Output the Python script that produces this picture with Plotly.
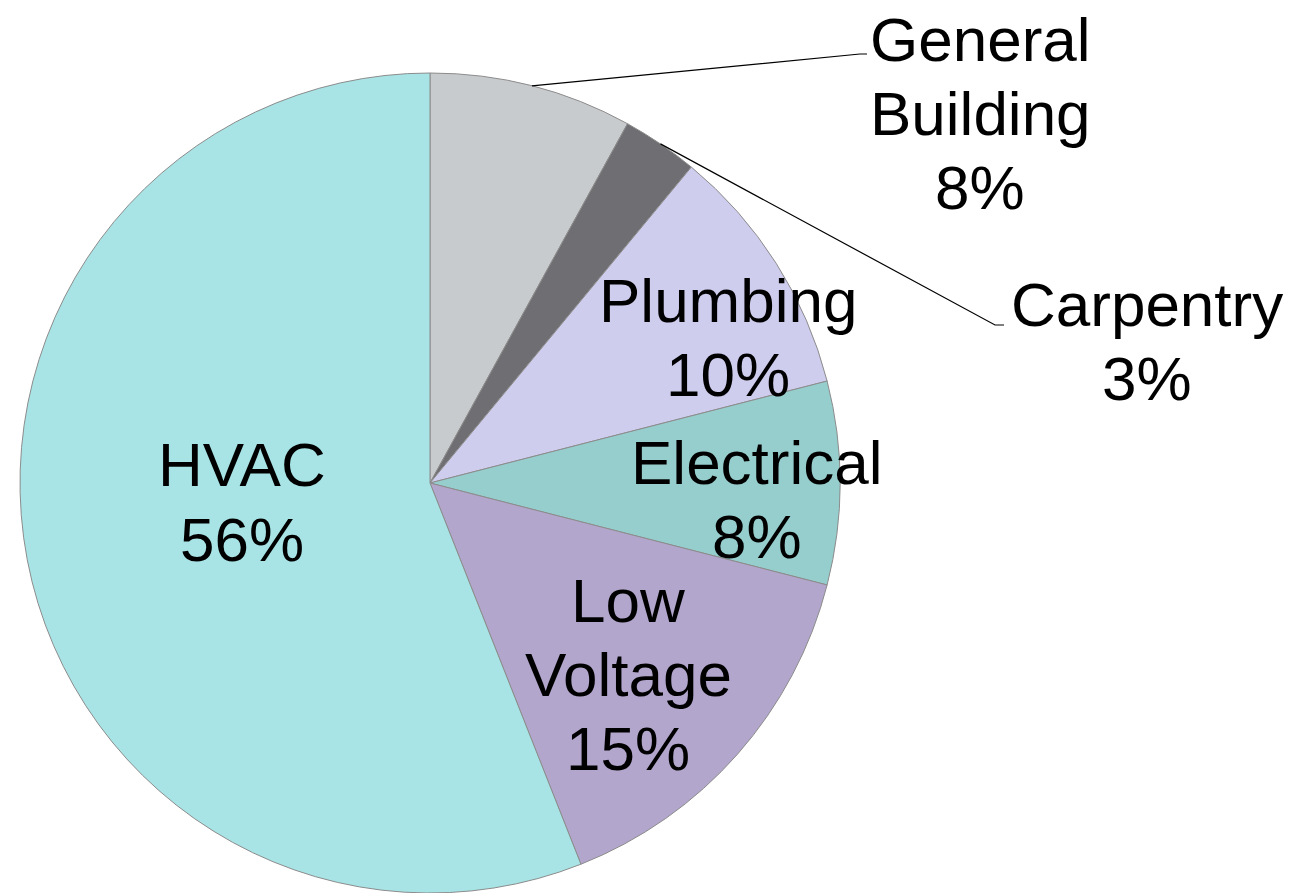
import math
import plotly.graph_objects as go

# ---- data ----
labels = ["General Building", "Carpentry", "Plumbing", "Electrical", "Low Voltage", "HVAC"]
values = [8, 3, 10, 8, 15, 56]
label_lines = [["General", "Building"], ["Carpentry"], ["Plumbing"], ["Electrical"], ["Low", "Voltage"], ["HVAC"]]
colors = ["#c8cbce", "#6f6f73", "#cfcdee", "#96cdcd", "#b3a6cc", "#a8e4e6"]

# ---- layout geometry (pixels) ----
W, H = 1306, 893
CX, CY, R = 430, 483, 410
FONT = "Liberation Sans, Arial, sans-serif"
FS = 62
LINE_H = 74

# label block centres (pixels)
label_pos = {
    "General Building": (980, 113),
    "Carpentry": (1147, 341),
    "Plumbing": (728, 337),
    "Electrical": (757, 499),
    "Low Voltage": (628, 674),
    "HVAC": (242, 502),
}
# leader-line elbows for outside labels (pixels): elbow, end
leaders = {
    "General Building": ((860, 54), (867, 54)),
    "Carpentry": ((995, 325), (1004, 325)),
}

def px(x):
    return x / W

def py(y):
    return 1 - y / H

fig = go.Figure(go.Pie(
    labels=labels,
    values=values,
    sort=False,
    direction="clockwise",
    rotation=0,
    textinfo="none",
    hoverinfo="label+percent",
    marker=dict(colors=colors, line=dict(color="#8c8c8c", width=1)),
    domain=dict(x=[(CX - R) / W, (CX + R) / W], y=[0, 2 * R / H]),
    showlegend=False,
))

total = sum(values)
annotations = []
shapes = []
cum = 0
for lab, val, lines in zip(labels, values, label_lines):
    pct = round(100 * val / total)
    all_lines = lines + [f"{pct}%"]
    cx, cy = label_pos[lab]
    n = len(all_lines)
    for i, t in enumerate(all_lines):
        yy = cy + (i - (n - 1) / 2) * LINE_H
        annotations.append(dict(
            x=px(cx), y=py(yy), xref="paper", yref="paper",
            text=t, showarrow=False, xanchor="center", yanchor="middle",
            borderpad=0,
            font=dict(family=FONT, size=FS, color="black"),
        ))
    if lab in leaders:
        mid = (cum + val / 2) / total * 2 * math.pi
        ax = CX + R * math.sin(mid)
        ay = CY - R * math.cos(mid)
        (ex, ey), (fx, fy) = leaders[lab]
        path = f"M {px(ax)} {py(ay)} L {px(ex)} {py(ey)} L {px(fx)} {py(fy)}"
        shapes.append(dict(type="path", xref="paper", yref="paper", path=path,
                           line=dict(color="black", width=1.2)))
    cum += val

fig.update_layout(
    width=W, height=H,
    margin=dict(l=0, r=0, t=0, b=0),
    paper_bgcolor="white",
    plot_bgcolor="white",
    annotations=annotations,
    shapes=shapes,
)

fig.write_html(
    "out.html",
    config={"displayModeBar": False},
    post_script="document.body.style.margin='0';document.body.style.overflow='hidden';",
)
